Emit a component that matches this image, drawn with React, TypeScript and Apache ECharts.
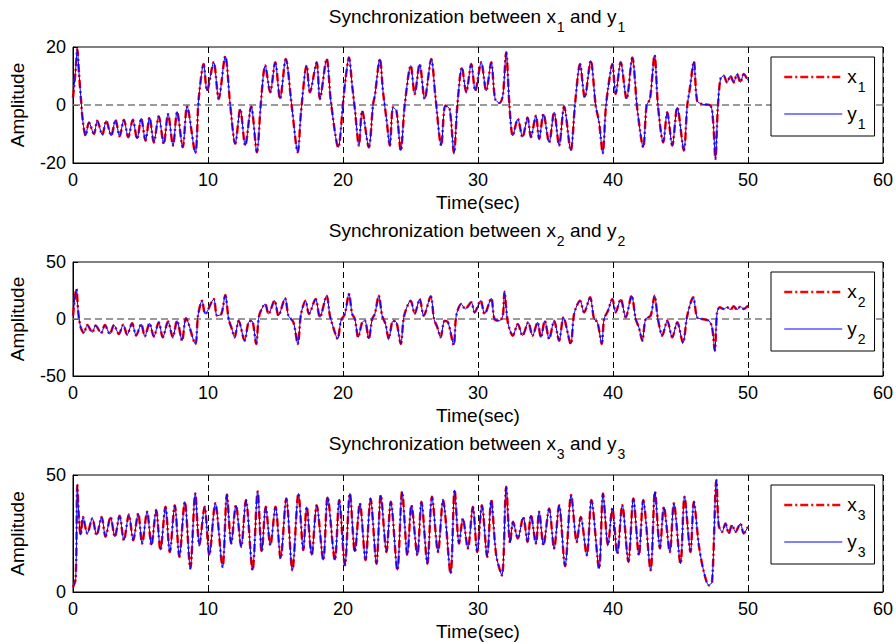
import React, { useEffect, useRef } from "react";
import * as echarts from "echarts";

const FONT = "'Liberation Sans', Arial, Helvetica, sans-serif";

// [time (sec), amplitude]
const X1: number[][] = [
  [0, 2.5], [0.2, 12.4], [0.32, 19.3], [0.44, 11.3], [0.57, 3.2], [0.74, -6], [0.94, -10.6], [1.18, -6], [1.55, -10], [1.8, -5.4],
  [2.17, -10.3], [2.46, -5.4], [2.83, -10.6], [3.15, -5.1], [3.45, -10.8], [3.77, -5.1], [4.09, -11.1], [4.43, -5.1], [4.75, -11.7],
  [5.05, -4.6], [5.37, -12.3], [5.67, -4.3], [5.99, -12.9], [6.35, -3.9], [6.72, -13.4], [7.04, -3.1], [7.41, -14], [7.71, -2.3],
  [8.13, -14.6], [8.45, -0.5], [9.06, -16.5], [9.31, 2.1], [9.68, 14.1], [9.93, 4.9], [10.42, 14.7], [10.79, 2.1], [11.28, 16.8],
  [11.65, -0.2], [12.02, -13.4], [12.39, -1.4], [12.76, -14], [13.2, -0.5], [13.62, -16.3], [13.92, 0.9], [14.24, 13.6], [14.61, 4.4],
  [14.98, 14.7], [15.34, 2.1], [15.76, 15.9], [16.2, -0.2], [16.65, -16.3], [16.89, -2.5], [17.31, 13.6], [17.55, 4.4], [18.05, 14.7],
  [18.29, 2.1], [18.79, 15.9], [19.11, 0.9], [19.65, -14.6], [20.02, 1.5], [20.19, 9], [20.44, 16.4], [20.68, 6.7], [20.88, -1.4],
  [21.18, -14], [21.42, -2], [21.91, -14.6], [22.23, 0.3], [22.36, 3.2], [22.73, 15.9], [22.97, 4.4], [23.22, -4.8], [23.47, -14],
  [23.71, -0.8], [23.96, -2], [24.28, -15.7], [24.57, -0.2], [25.02, 13.6], [25.31, 3.8], [25.68, 14.1], [26.05, 2.1], [26.54, 15.9],
  [26.84, 3.2], [27.28, -14], [27.58, -0.2], [27.9, -1.4], [28.22, -16.6], [28.47, -0.2], [28.81, 13], [29.13, 4.4], [29.5, 14.1],
  [29.8, 4.9], [30.24, 14.7], [30.61, 4.9], [30.98, 14.7], [31.27, 2.1], [31.59, 0.7], [31.84, 3.2], [32.09, 18.2], [32.33, -0.2],
  [32.58, -10.6], [32.95, -4.8], [33.3, -11.1], [33.67, -4.3], [33.92, -11.1], [34.29, -3.7], [34.53, -11.7], [34.85, -3.1],
  [35.27, -12.9], [35.64, -2.5], [36.01, -14], [36.38, -0.5], [36.87, -15.7], [37.2, 0.9], [37.56, 14.1], [37.91, 2.6], [38.35, 15.3],
  [38.72, -0.2], [38.97, -6], [39.24, -16.6], [39.46, -1.4], [39.63, 5.5], [39.95, 14.1], [40.2, 3.8], [40.57, 14.7], [41.01, 2.1],
  [41.43, 16.4], [41.8, -1.4], [42.24, -14.6], [42.49, -0.2], [42.74, 2.1], [43.08, 17.2], [43.33, -0.2], [43.72, -12.9], [44.02, -2.5],
  [44.39, -14], [44.76, -0.8], [45.25, -15.7], [45.5, -0.2], [45.69, 5.5], [45.99, 15], [46.23, 1.5], [46.6, 0.3], [47.22, -0.2],
  [47.42, -6], [47.59, -18.6], [47.76, -1.4], [47.96, 9], [48.2, 10.1], [48.45, 7.8], [48.7, 10.1], [48.94, 7.8], [49.19, 10.7],
  [49.44, 7.8], [49.68, 10.7], [50, 8.4],
];
const Y1: number[][] = X1;

const X2: number[][] = [
  [0, 3], [0.25, 26.3], [0.39, 5.8], [0.57, -7.3], [0.81, -12.3], [1.06, -5.3], [1.43, -11.7], [1.67, -5.8], [2.09, -12.3], [2.36, -5.3],
  [2.73, -13.2], [3.03, -5.3], [3.4, -13.2], [3.72, -5], [4.01, -13.7], [4.38, -3.8], [4.68, -14.6], [5.05, -4.4], [5.32, -15.2],
  [5.67, -3.8], [5.99, -15.5], [6.35, -2.9], [6.65, -16.1], [7.04, -2.3], [7.39, -16.1], [7.71, -1.5], [8.08, -19], [8.37, 0.6],
  [9.06, -21.9], [9.26, 2.9], [9.56, 16.1], [9.8, 4.4], [10.42, 17.5], [10.67, 2.9], [10.99, 4.4], [11.28, 21], [11.53, 0], [11.77, -8.8],
  [11.97, -16.1], [12.27, -1.5], [12.71, -19], [13.0, -2.9], [13.25, -1.5], [13.57, -21.9], [13.79, 2.9], [14.24, 13.2], [14.48, 4.4],
  [14.93, 16.1], [15.22, 2.9], [15.71, 18.1], [15.96, 2.9], [16.33, -2.9], [16.65, -21.9], [16.89, 4.4], [17.23, 16.1], [17.48, 4.4],
  [17.97, 17.5], [18.29, 1.5], [18.79, 20.5], [19.03, 2.9], [19.28, -7.3], [19.6, -17.5], [19.85, -1.5], [20.14, 4.4], [20.44, 21.9],
  [20.68, 4.4], [20.88, 0], [21.13, -16.1], [21.42, -2.9], [21.62, -1.5], [21.91, -17.5], [22.16, 0], [22.36, 4.4], [22.65, 20.5],
  [22.9, 2.9], [23.15, -4.4], [23.39, -17.5], [23.71, -1.5], [23.96, -2.9], [24.28, -21.9], [24.53, 2.9], [25.02, 16.1], [25.31, 4.4],
  [25.68, 17.5], [25.98, 2.9], [26.5, 19.9], [26.74, 0], [26.99, -7.3], [27.23, -16.1], [27.53, -1.5], [27.78, -2.9], [28.2, -22.8],
  [28.39, 2.9], [28.76, 13.2], [29.06, 8.8], [29.5, 14.6], [29.75, 5.8], [30.19, 16.1], [30.49, 4.4], [30.98, 18.1], [31.22, 0],
  [31.59, -1.5], [31.84, 2.9], [31.96, 24], [32.21, -2.9], [32.58, -14.6], [32.95, -4.4], [33.3, -14.6], [33.72, -2.9], [34.04, -14.6],
  [34.41, -2.9], [34.66, -16.1], [34.95, -1.5], [35.27, -17.5], [35.64, -1.5], [36.01, -19], [36.33, 1.5], [36.87, -21.9], [37.12, 4.4],
  [37.56, 16.1], [37.86, 5.8], [38.3, 19], [38.6, 0], [38.85, -2.9], [39.17, -21.9], [39.34, 0], [39.63, 7.3], [39.95, 17.5], [40.2, 5.8],
  [40.57, 17.5], [40.94, 1.5], [41.38, 20.5], [41.68, 0], [41.92, -7.3], [42.17, -19], [42.42, 0], [42.79, 2.9], [43.08, 20.5], [43.33, 0],
  [43.65, -14.6], [44.02, -1.5], [44.39, -16.1], [44.76, -2.9], [45.18, -21], [45.5, 2.9], [45.94, 19], [46.23, 1.5], [46.6, 0],
  [47.1, -1.5], [47.34, -7.3], [47.54, -27.8], [47.71, 5.8], [47.91, 10.2], [48.2, 8.8], [48.45, 10.2], [48.7, 8.2], [48.94, 11.1],
  [49.19, 8.2], [49.44, 11.1], [49.68, 8.8], [50, 11.7],
];
const Y2: number[][] = X2;

const X3: number[][] = [
  [0, 2], [0.2, 5.7], [0.32, 45.7], [0.44, 31.4], [0.57, 24.3], [0.74, 32.1], [1.06, 25], [1.43, 31.4], [1.75, 24.3], [2.12, 32.1],
  [2.41, 23.6], [2.78, 32.1], [3.1, 23.6], [3.45, 32.6], [3.77, 22.1], [4.14, 33.1], [4.46, 22.1], [4.83, 33.6], [5.12, 20.7],
  [5.49, 34.3], [5.81, 20], [6.16, 35], [6.48, 17.9], [6.85, 36.4], [7.17, 17.1], [7.54, 37.1], [7.88, 15], [8.28, 38.6], [8.69, 10],
  [9.06, 42.1], [9.36, 20], [9.75, 36.4], [10.1, 15.7], [10.54, 37.9], [11.08, 10.7], [11.4, 41.7], [11.72, 20.7], [12.07, 37.1],
  [12.46, 19.3], [12.81, 39.3], [13.3, 9.3], [13.68, 42.9], [13.98, 17.1], [14.28, 36.4], [14.62, 20], [15.0, 36.4], [15.38, 14.3],
  [15.8, 40], [16.25, 9.3], [16.7, 42.1], [17.06, 17.9], [17.31, 36.4], [17.68, 15.7], [18.05, 37.1], [18.54, 13.6], [18.86, 40.7],
  [19.4, 13.6], [19.72, 39.3], [20.14, 11.4], [20.51, 42.1], [20.88, 17.1], [21.25, 37.9], [21.67, 13.6], [22.04, 40], [22.48, 12.1],
  [22.8, 41.4], [23.22, 17.1], [23.54, 38.6], [24.03, 9.3], [24.38, 42.9], [24.77, 15.7], [25.07, 37.1], [25.51, 15.7], [25.81, 38.6],
  [26.25, 12.1], [26.59, 40.7], [27.04, 17.1], [27.41, 39.3], [27.97, 7.9], [28.27, 43.6], [28.6, 20.7], [28.88, 31.4], [29.25, 18.6],
  [29.62, 36.4], [29.94, 17.1], [30.29, 37.1], [30.68, 15], [30.98, 39.3], [31.35, 15.7], [31.77, 7.1], [32.09, 45], [32.38, 21],
  [32.6, 30], [32.95, 22.9], [33.35, 32], [33.67, 21.4], [33.92, 32.9], [34.29, 20.7], [34.53, 34.3], [34.85, 20], [35.27, 35.7],
  [35.64, 18.6], [36.01, 37.1], [36.45, 11], [36.9, 41.4], [37.32, 21.4], [37.61, 32.1], [38.06, 15.7], [38.4, 39.3], [38.97, 10],
  [39.26, 42.1], [39.63, 20], [39.95, 35.7], [40.32, 16.4], [40.69, 37.1], [41.14, 12.9], [41.51, 40], [41.92, 15.7], [42.24, 39.3],
  [42.79, 9.3], [43.11, 42.9], [43.48, 18.6], [43.77, 36.4], [44.21, 17.1], [44.51, 37.9], [45.0, 12.1], [45.3, 40.7], [45.74, 17.1],
  [45.99, 38.6], [46.36, 20], [46.73, 8.6], [47.1, 2.9], [47.34, 4.3], [47.66, 47.9], [47.83, 28.6], [48.08, 25.7], [48.33, 29.3],
  [48.57, 25], [48.82, 28.6], [49.07, 25.7], [49.44, 29.3], [49.68, 25], [50, 27.9],
];
const Y3: number[][] = X3;

const X_MIN = 0;
const X_MAX = 60;
const X_STEP = 10;
const Y_RANGES = [
  { min: -20, max: 20, step: 20 },
  { min: -50, max: 50, step: 50 },
  { min: 0, max: 50, step: 50 },
];
const SUBS = ["1", "2", "3"];
const X_DATA = [X1, X2, X3];
const Y_DATA = [Y1, Y2, Y3];

const GRIDS = [
  { left: 71, top: 47, width: 812, height: 116 },
  { left: 71, top: 262, width: 812, height: 114 },
  { left: 71, top: 475, width: 812, height: 117 },
];
const TITLE_TOPS = [7, 221, 434];
const LEGEND_TOPS = [57, 272, 485];

const RED = "#ff0000";
const BLUE = "#0000ff";
const DASHDOT = [8, 3, 2, 3];

const rich = {
  m: { fontSize: 19, fontWeight: "normal", lineHeight: 20, verticalAlign: "top", color: "#000", fontFamily: FONT },
  s: { fontSize: 14, fontWeight: "normal", lineHeight: 14, padding: [13, 0, 0, 1], verticalAlign: "top", color: "#000", fontFamily: FONT },
};

export default function App() {
  const ref = useRef<HTMLDivElement>(null);
  useEffect(() => {
    if (!ref.current) return;
    const chart = echarts.init(ref.current, null, { renderer: "svg" });
    const series: any[] = [];
    const legends: any[] = [];
    const titles: any[] = [];
    const xAxes: any[] = [];
    const yAxes: any[] = [];
    for (let i = 0; i < 3; i++) {
      const sub = SUBS[i];
      titles.push({
        text: `{m|Synchronization between x}{s|${sub}}{m| and y}{s|${sub}}`,
        left: GRIDS[i].left + GRIDS[i].width / 2,
        top: TITLE_TOPS[i],
        textAlign: "center",
        padding: 0,
        textStyle: { fontWeight: "normal", rich },
      });
      xAxes.push({
        gridIndex: i,
        type: "value",
        min: X_MIN,
        max: X_MAX,
        interval: X_STEP,
        axisLine: { show: true, onZero: false, lineStyle: { color: "#000", width: 1 } },
        axisTick: { show: true, inside: true, length: 5, lineStyle: { color: "#000" } },
        axisLabel: { color: "#000", fontSize: 18, fontFamily: FONT, margin: 8 },
        splitLine: { show: true, lineStyle: { color: "#000", width: 1, type: [6, 4] } },
        name: "Time(sec)",
        nameLocation: "middle",
        nameGap: 30,
        nameTextStyle: { color: "#000", fontSize: 19, fontFamily: FONT },
      });
      yAxes.push({
        gridIndex: i,
        type: "value",
        min: Y_RANGES[i].min,
        max: Y_RANGES[i].max,
        interval: Y_RANGES[i].step,
        axisLine: { show: true, onZero: false, lineStyle: { color: "#000", width: 1 } },
        axisTick: { show: true, inside: true, length: 5, lineStyle: { color: "#000" } },
        axisLabel: { color: "#000", fontSize: 18, fontFamily: FONT, margin: 7 },
        splitLine: { show: false },
        name: "Amplitude",
        nameLocation: "middle",
        nameRotate: 90,
        nameGap: 46,
        nameTextStyle: { color: "#000", fontSize: 19, fontFamily: FONT },
      });
      const xs: any = {
        name: "x" + sub,
        type: "line",
        xAxisIndex: i,
        yAxisIndex: i,
        data: X_DATA[i],
        symbol: "none",
        showSymbol: false,
        smooth: 0.3,
        lineStyle: { color: RED, width: 2.5, type: DASHDOT },
        itemStyle: { color: RED },
        z: 2,
      };
      if (i < 2) {
        xs.markLine = {
          silent: true,
          z: 1,
          symbol: ["none", "none"],
          label: { show: false },
          lineStyle: { color: "#7a7a7a", width: 1.5, type: [7, 4] },
          data: [{ yAxis: 0 }],
        };
      }
      series.push(xs);
      series.push({
        name: "y" + sub,
        type: "line",
        xAxisIndex: i,
        yAxisIndex: i,
        data: Y_DATA[i],
        symbol: "none",
        showSymbol: false,
        smooth: 0.3,
        lineStyle: { color: BLUE, width: 1 },
        itemStyle: { color: BLUE },
        z: 3,
      });
      legends.push({
        data: [
          { name: "x" + sub, itemStyle: { opacity: 0 }, lineStyle: { color: RED, width: 2.5, type: DASHDOT } },
          { name: "y" + sub, itemStyle: { opacity: 0 }, lineStyle: { color: BLUE, width: 1 } },
        ],
        z: 10,
        left: 771,
        top: LEGEND_TOPS[i],
        orient: "vertical",
        itemWidth: 58,
        itemHeight: 14,
        itemGap: 10,
        itemTextGap: 7,
        padding: [10, 9, 5, 12],
        borderColor: "#000",
        borderWidth: 1,
        borderRadius: 0,
        backgroundColor: "#fff",
        selectedMode: false,
        itemStyle: { opacity: 0 },
        formatter: (name: string) => `{m|${name[0]}}{s|${name.slice(1)}}`,
        textStyle: { rich },
      });
    }
    chart.setOption({
      animation: false,
      backgroundColor: "#fff",
      title: titles,
      legend: legends,
      grid: GRIDS.map((g) => ({ ...g, show: true, borderColor: "#000", borderWidth: 1, backgroundColor: "#fff" })),
      xAxis: xAxes,
      yAxis: yAxes,
      series,
    });
    return () => chart.dispose();
  }, []);
  return <div ref={ref} style={{ position: "absolute", left: 0, top: 0, width: 896, height: 643 }} />;
}
